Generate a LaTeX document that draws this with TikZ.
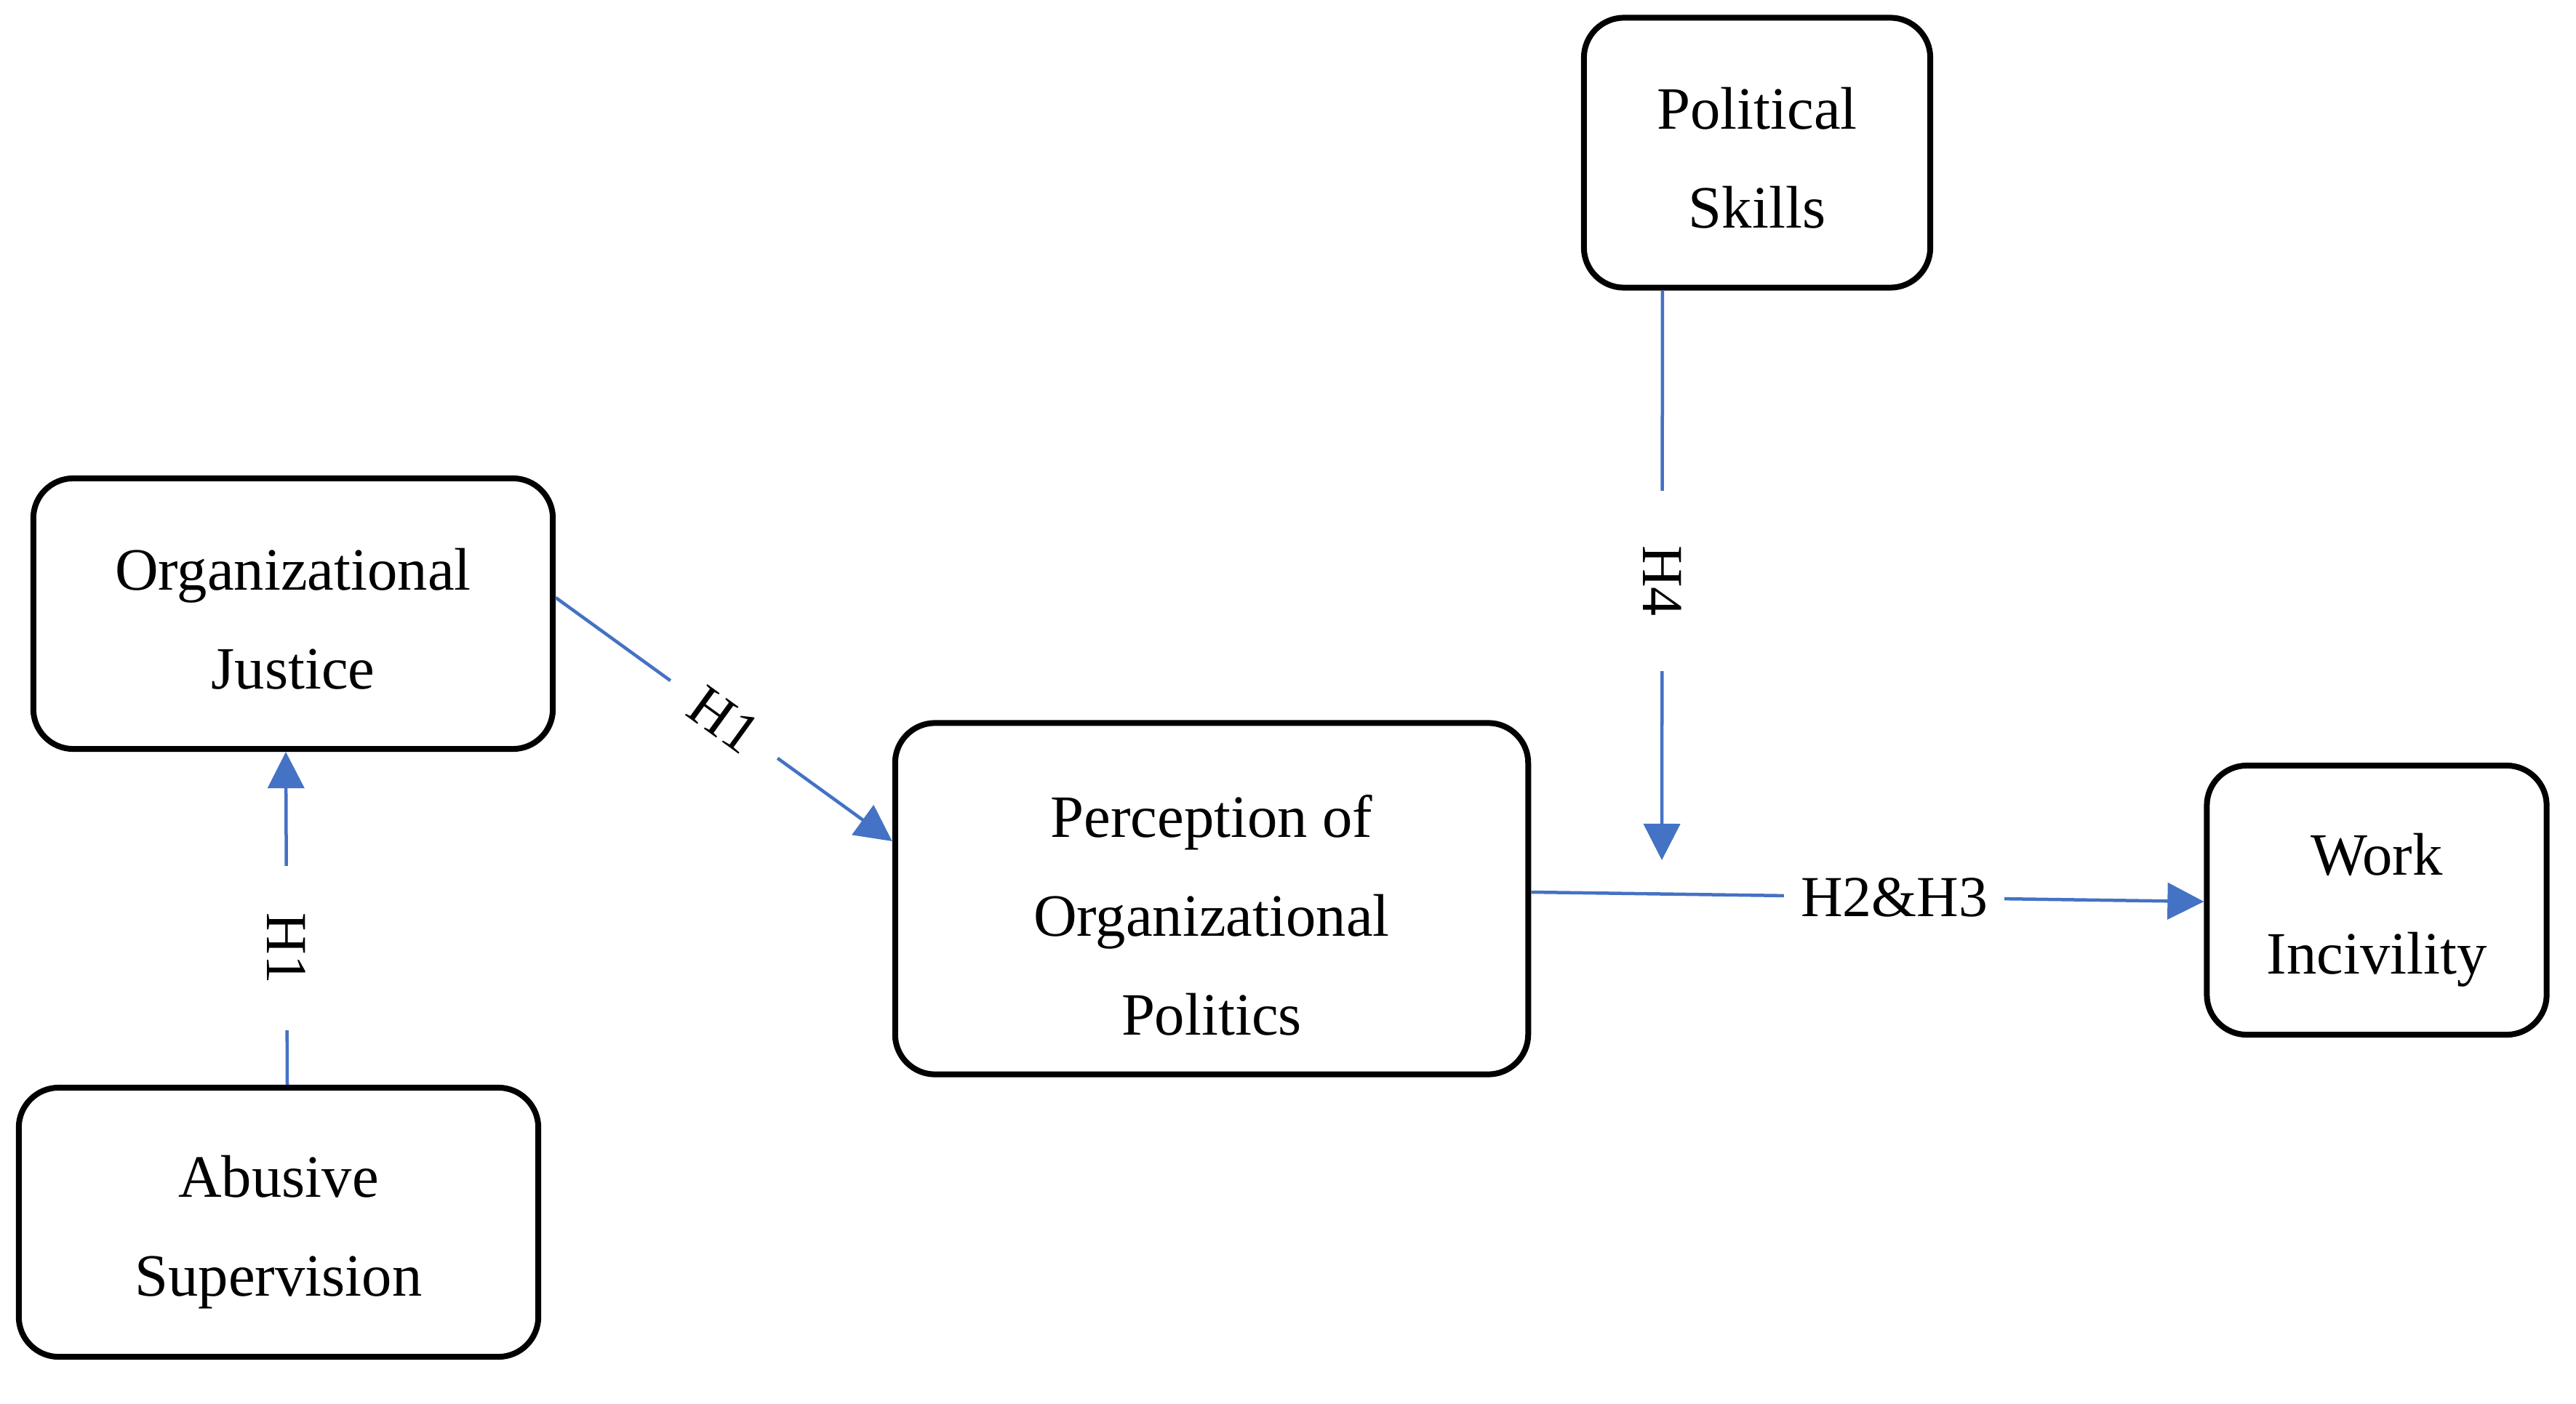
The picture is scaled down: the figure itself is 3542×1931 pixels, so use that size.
\documentclass[tikz,border=0pt]{standalone}
\usepackage{fontspec}
\setmainfont{Liberation Serif}
\usetikzlibrary{arrows.meta}
\definecolor{ablue}{HTML}{4472C4}
\newcommand\toplift[2]{\raisebox{0pt}[\dimexpr\height+#1\relax]{#2}}
\begin{document}
\begin{tikzpicture}[x=0.01cm,y=-0.01cm,
  box/.style={draw=black, line width=0.08cm, rounded corners=0.55cm, align=center,
    font=\fontsize{23.5}{38.7}\selectfont, inner sep=0pt},
  link/.style={draw=ablue, line width=0.045cm, -{Triangle[length=0.5cm,width=0.5cm]}},
  lab/.style={fill=white, text=black, font=\fontsize{22.7}{26}\selectfont, inner ysep=2pt}]
\useasboundingbox (0,0) rectangle (3542,1931);
\node[box, minimum width=4.76cm, minimum height=3.71cm] (ps) at (2416,210) {\toplift{0.14cm}{Political}\\Skills};
\node[box, minimum width=7.14cm, minimum height=3.72cm] (oj) at (403,844) {\toplift{0.14cm}{Organizational}\\Justice};
\node[box, minimum width=7.14cm, minimum height=3.70cm] (as) at (383,1681) {\toplift{0.28cm}{Abusive}\\Supervision};
\node[box, minimum width=8.70cm, minimum height=4.83cm] (pop) at (1666,1236) {\toplift{0.46cm}{Perception of}\\Organizational\\Politics};
\node[box, minimum width=4.67cm, minimum height=3.70cm] (wi) at (3268,1238) {\toplift{0.28cm}{Work}\\Incivility};
\coordinate (h4tip) at (2285,1183);

\draw[link] ([xshift=0.12cm]as.north) -- ([xshift=-0.10cm]oj.south)
  node[lab, rotate=-90, pos=0.41, inner xsep=0.64cm] {H1};
\draw[link] ([yshift=0.22cm]oj.east) -- ([yshift=0.79cm]pop.west)
  node[lab, sloped, midway, inner xsep=0.42cm] {H1};
\draw[link] ([xshift=-1.30cm]ps.south) -- (h4tip)
  node[lab, rotate=-90, pos=0.51, inner xsep=0.75cm] {H4};
\draw[link] ([yshift=0.09cm]pop.east) -- ([yshift=-0.02cm]wi.west)
  node[lab, pos=0.54, inner xsep=0.23cm] {H2\&H3};
\end{tikzpicture}
\end{document}
